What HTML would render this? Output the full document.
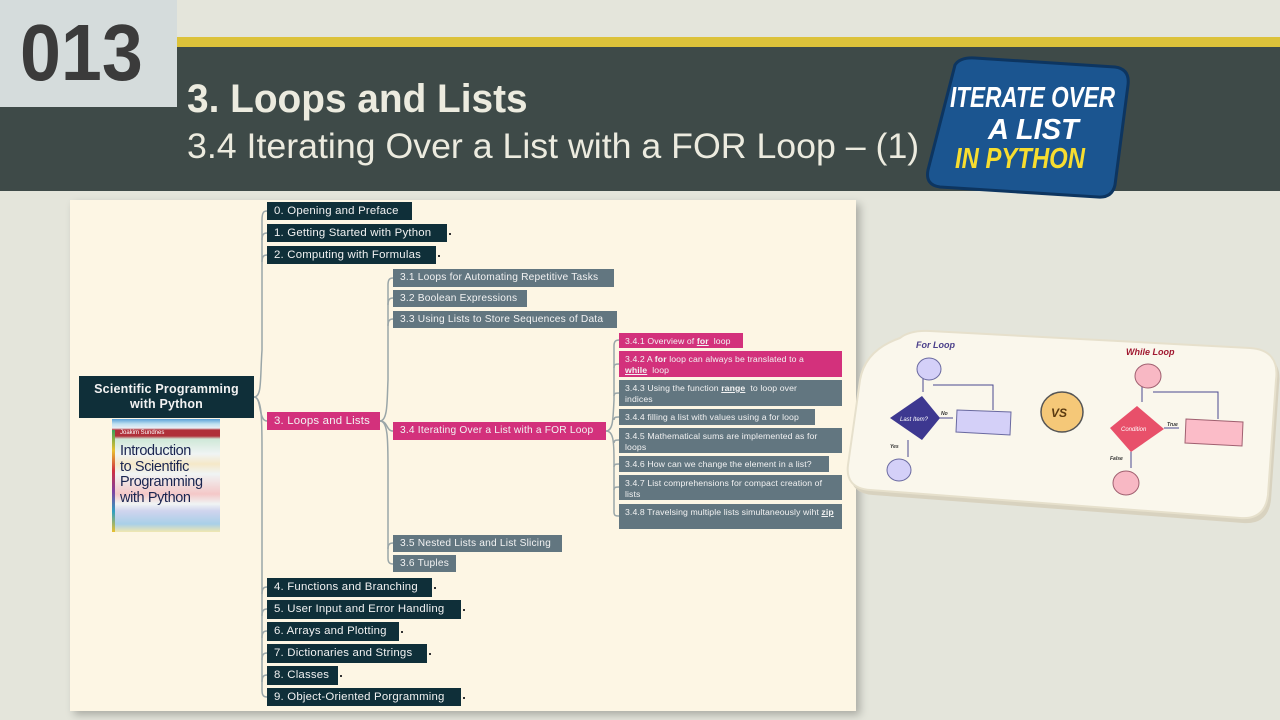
<!DOCTYPE html>
<html><head><meta charset="utf-8"><style>
*{margin:0;padding:0;box-sizing:border-box}
body{width:1280px;height:720px;overflow:hidden;background:#e4e5db;position:relative;font-family:"Liberation Sans",sans-serif}
.a{position:absolute}
.n{position:absolute;color:#f2f2f2;font-size:11.4px;line-height:18px;padding:0 0 0 7px;white-space:nowrap;letter-spacing:0.2px}
.d{background:#0f2f39}
.p{background:#d3317c}
.g{background:#627680}
.s{font-size:8.7px;line-height:11px;padding:3px 4px 0 6px;white-space:normal;letter-spacing:0.1px}
.s b{text-decoration:underline}
.dot{position:absolute;width:2px;height:2px;background:#333}
</style></head><body>
<div class="a" style="left:0;top:0;width:177px;height:107px;background:#d5dcdc"></div>
<div class="a" style="left:20px;top:6px;font-size:80px;font-weight:bold;color:#3b3b3b;line-height:94px;letter-spacing:0px;transform:scaleX(0.92);transform-origin:left">013</div>
<div class="a" style="left:177px;top:37px;width:1103px;height:10px;background:#dcc23a"></div>
<div class="a" style="left:0;top:107px;width:177px;height:84px;background:#3e4a48"></div>
<div class="a" style="left:177px;top:47px;width:1103px;height:144px;background:#3e4a48"></div>
<div class="a" style="left:187px;top:76px;font-size:40px;font-weight:bold;color:#ecebdf;line-height:46px;transform:scaleX(0.97);transform-origin:left">3. Loops and Lists</div>
<div class="a" style="left:187px;top:126px;font-size:35px;color:#ecebdf;line-height:42px;transform:scaleX(1.02);transform-origin:left">3.4 Iterating Over a List with a FOR Loop – (1)</div>

<svg class="a" style="left:920px;top:55px" width="220" height="150">
<path d="M35 10 Q40 2 55 3 L195 12 Q210 14 208 30 L195 130 Q192 143 178 142 L20 132 Q5 130 8 115 Z" fill="#1b5590" stroke="#0d3560" stroke-width="3"/>
<text x="30" y="52" font-family="Liberation Sans" font-weight="bold" font-style="italic" font-size="29" fill="#fff" textLength="165" lengthAdjust="spacingAndGlyphs">ITERATE OVER</text>
<text x="68" y="84" font-family="Liberation Sans" font-weight="bold" font-style="italic" font-size="29" fill="#fff">A LIST</text>
<text x="35" y="113" font-family="Liberation Sans" font-weight="bold" font-style="italic" font-size="29" fill="#f7dd30" textLength="130" lengthAdjust="spacingAndGlyphs">IN PYTHON</text>
</svg>

<div class="a" style="left:70px;top:200px;width:786px;height:511px;background:#fdf6e4;box-shadow:4px 4px 8px rgba(0,0,0,.25)"></div>

<svg class="a" style="left:0;top:0" width="860" height="720" fill="none" stroke="#9aa6a8" stroke-width="1.5">
<path d="M254 397 C262 397 260 380 262 350 L262 220 C262 212 264 211 267 211"/>
<path d="M262 240 C262 234 264 233 267 233"/>
<path d="M262 262 C262 256 264 255 267 255"/>
<path d="M254 397 C262 397 258 421 267 421"/>
<path d="M254 397 C262 397 262 420 262 450 L262 690 C262 696 264 697 267 697"/>
<path d="M262 594 C262 588 264 587 267 587"/><path d="M262 616 C262 610 264 609 267 609"/>
<path d="M262 638 C262 632 264 631 267 631"/><path d="M262 660 C262 654 264 653 267 653"/>
<path d="M262 682 C262 676 264 675 267 675"/>
<path d="M380 421 C388 421 387 400 388 380 L388 285 C388 279 390 278 393 278"/>
<path d="M388 305 C388 299 390 298 393 298"/><path d="M388 326 C388 320 390 319 393 319"/>
<path d="M380 421 C388 421 386 431 393 431"/>
<path d="M380 421 C388 421 388 440 388 470 L388 558 C388 563 390 564 393 564"/>
<path d="M388 549 C388 544 390 543 393 543"/>
<path d="M606 431 C613 431 613 420 614 400 L614 346 C614 341 616 340 619 340"/>
<path d="M614 368 C614 364 616 364 619 364"/><path d="M614 396 C614 393 616 393 619 393"/>
<path d="M614 420 C614 417 616 417 619 417"/>
<path d="M606 431 C613 431 614 440 614 460 L614 512 C614 516 616 516 619 516"/>
<path d="M614 443 C614 440 616 440 619 440"/><path d="M614 467 C614 464 616 464 619 464"/>
<path d="M614 490 C614 487 616 487 619 487"/>
</svg>

<div class="n d" style="left:79px;top:376px;width:175px;height:42px;font-weight:bold;font-size:12.5px;line-height:15px;text-align:center;padding:6px 4px;white-space:normal">Scientific Programming with Python</div>
<div class="a" style="left:112px;top:419px;width:108px;height:113px;background:linear-gradient(#5aa0d8 0,#bfe0f0 5px,#e8eef5 9px,#b0303a 11px,#b0303a 17px,#cfe8d8 20px,#f0f4f4 35px,#f5e8c8 45px,#f0f4f4 55px,#f4c8c8 75px,#f0f4f4 85px,#cfd4ee 92px,#a8d0e8 105px,#f0e8b0 113px)"></div>
<div class="a" style="left:112px;top:430px;width:3px;height:102px;background:linear-gradient(#3aa05a,#e8c030,#d03040,#8040a0,#30a0c0,#e8c030)"></div>
<div class="a" style="left:120px;top:430px;font-size:6px;color:#fff">Joakim Sundnes</div>
<div class="a" style="left:120px;top:444px;font-size:14.5px;line-height:15.5px;color:#1a2550;letter-spacing:-0.4px">Introduction<br>to Scientific<br>Programming<br>with Python</div>

<div class="n d" style="left:267px;top:202px;width:145px">0. Opening and Preface</div>
<div class="n d" style="left:267px;top:224px;width:180px">1. Getting Started with Python</div><div class="dot" style="left:449px;top:233px"></div>
<div class="n d" style="left:267px;top:246px;width:169px">2. Computing with Formulas</div><div class="dot" style="left:438px;top:255px"></div>
<div class="n p" style="left:267px;top:412px;width:113px">3. Loops and Lists</div>
<div class="n d" style="left:267px;top:578px;width:165px;height:19px">4. Functions and Branching</div><div class="dot" style="left:434px;top:587px"></div>
<div class="n d" style="left:267px;top:600px;width:194px;height:19px">5. User Input and Error Handling</div><div class="dot" style="left:463px;top:609px"></div>
<div class="n d" style="left:267px;top:622px;width:132px;height:19px">6. Arrays and Plotting</div><div class="dot" style="left:401px;top:631px"></div>
<div class="n d" style="left:267px;top:644px;width:160px;height:19px">7. Dictionaries and Strings</div><div class="dot" style="left:429px;top:653px"></div>
<div class="n d" style="left:267px;top:666px;width:71px;height:19px">8. Classes</div><div class="dot" style="left:340px;top:675px"></div>
<div class="n d" style="left:267px;top:688px;width:194px">9. Object-Oriented Porgramming</div><div class="dot" style="left:463px;top:697px"></div>

<div class="n g" style="left:393px;top:269px;width:221px;font-size:10.2px">3.1 Loops for Automating Repetitive Tasks</div>
<div class="n g" style="left:393px;top:290px;width:134px;height:17px;font-size:10.2px;line-height:17px">3.2 Boolean Expressions</div>
<div class="n g" style="left:393px;top:311px;width:224px;height:17px;font-size:10.2px;line-height:17px">3.3 Using Lists to Store Sequences of Data</div>
<div class="n p" style="left:393px;top:422px;width:213px;font-size:10.2px">3.4 Iterating Over a List with a FOR Loop</div>
<div class="n g" style="left:393px;top:535px;width:169px;height:17px;font-size:10.2px;line-height:17px">3.5 Nested Lists and List Slicing</div>
<div class="n g" style="left:393px;top:555px;width:63px;height:17px;font-size:10.2px;line-height:17px">3.6 Tuples</div>

<div class="n p s" style="left:619px;top:333px;width:124px;height:15px">3.4.1 Overview of <b>for</b>&nbsp; loop</div>
<div class="n p s" style="left:619px;top:351px;width:223px;height:26px;padding-right:20px">3.4.2 A <b style="text-decoration:none">for</b> loop can always be translated to a <b>while</b>&nbsp; loop</div>
<div class="n g s" style="left:619px;top:380px;width:223px;height:26px;padding-right:20px">3.4.3 Using the function <b>range</b>&nbsp; to loop over indices</div>
<div class="n g s" style="left:619px;top:409px;width:196px;height:16px">3.4.4 filling a list with values using a for loop</div>
<div class="n g s" style="left:619px;top:428px;width:223px;height:25px">3.4.5 Mathematical sums are implemented as for loops</div>
<div class="n g s" style="left:619px;top:456px;width:210px;height:16px">3.4.6 How can we change the element in a list?</div>
<div class="n g s" style="left:619px;top:475px;width:223px;height:25px;padding-right:14px">3.4.7 List comprehensions for compact creation of lists</div>
<div class="n g s" style="left:619px;top:504px;width:223px;height:25px">3.4.8 Travelsing multiple lists simultaneously wiht <b>zip</b></div>

<svg class="a" style="left:840px;top:320px" width="440" height="210">
<path d="M60 18 Q70 10 90 11 L410 28 Q440 30 436 60 L428 175 Q425 200 400 198 L30 170 Q5 168 8 145 L20 60 Q25 30 60 18 Z" fill="#d8d2bf" transform="translate(3,5)"/>
<path d="M60 18 Q70 10 90 11 L410 28 Q440 30 436 60 L428 175 Q425 200 400 198 L30 170 Q5 168 8 145 L20 60 Q25 30 60 18 Z" fill="#faf7ec" stroke="#e6e0cc" stroke-width="2"/>
<text x="76" y="28" font-family="Liberation Sans" font-weight="bold" font-style="italic" font-size="9" fill="#4a3f8a">For Loop</text>
<text x="286" y="35" font-family="Liberation Sans" font-weight="bold" font-style="italic" font-size="9" fill="#a01830">While Loop</text>
<g stroke="#4a4a90" stroke-width="1" fill="none">
<path d="M83 58 V72 M93 65 H153 V90 M68 120 V137 M99 98 H113"/>
<path d="M302 66 V82 M313 72 H378 V99 M291 131 V148 M324 108 H339"/>
</g>
<ellipse cx="89" cy="49" rx="12" ry="11" fill="#d4d0f8" stroke="#6a6aa0"/>
<polygon points="82,76 100,98 82,120 50,98" fill="#3d3890"/>
<text x="60" y="101" font-family="Liberation Sans" font-style="italic" font-size="6" fill="#fff">Last Item?</text>
<text x="101" y="95" font-family="Liberation Sans" font-weight="bold" font-style="italic" font-size="5" fill="#333">No</text>
<text x="50" y="128" font-family="Liberation Sans" font-weight="bold" font-style="italic" font-size="5" fill="#333">Yes</text>
<polygon points="117,90 171,92 170,115 116,112" fill="#d4d0f8" stroke="#6a6aa0"/>
<ellipse cx="59" cy="150" rx="12" ry="11" fill="#d4d0f8" stroke="#6a6aa0"/>
<ellipse cx="222" cy="92" rx="21" ry="20" fill="#f5c878" stroke="#555" stroke-width="1.5"/>
<text x="211" y="97" font-family="Liberation Sans" font-weight="bold" font-style="italic" font-size="12" fill="#5a3a10">VS</text>
<ellipse cx="308" cy="56" rx="13" ry="12" fill="#f8b8c4" stroke="#a06070"/>
<polygon points="297,86 324,109 291,132 270,108" fill="#e8506a"/>
<text x="281" y="111" font-family="Liberation Sans" font-style="italic" font-size="6" fill="#fff">Condition</text>
<text x="327" y="106" font-family="Liberation Sans" font-weight="bold" font-style="italic" font-size="5" fill="#333">True</text>
<text x="270" y="140" font-family="Liberation Sans" font-weight="bold" font-style="italic" font-size="5" fill="#333">False</text>
<polygon points="346,99 403,102 402,126 345,123" fill="#fbbcc8" stroke="#a06070"/>
<ellipse cx="286" cy="163" rx="13" ry="12" fill="#f8b8c4" stroke="#a06070"/>
</svg>
</body></html>
